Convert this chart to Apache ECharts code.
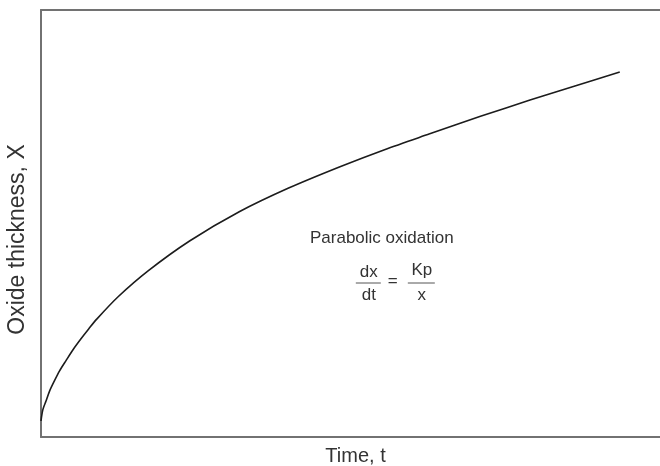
<!DOCTYPE html>
<html>
<head>
<meta charset="utf-8">
<script src="https://cdn.jsdelivr.net/npm/echarts@6/dist/echarts.min.js"></script>
<style>
  html, body { margin: 0; padding: 0; background: #ffffff; }
  #chart { width: 660px; height: 466px; }
</style>
</head>
<body>
<div id="chart"></div>
<script>
// Parabolic oxide growth: thickness against time (arbitrary units)
const timeValues = [0, 0.3, 0.81, 1.4, 2.15, 3.0, 4.04, 5.2, 6.46, 7.7, 9.0, 12.5,
  17.3, 24.0, 32.1, 40.0, 48.3, 55.5, 62.8, 71.0, 79.0, 86.0, 93.5];
const thicknessValues = [3.75, 6.4, 8.43, 10.8, 13.1, 15.5, 17.9, 20.5, 23.0, 25.3, 27.6, 32.9,
  38.9, 45.9, 52.8, 58.3, 63.3, 67.3, 71.0, 75.1, 78.9, 82.1, 85.5];

const xAxisName = 'Time, t';
const yAxisName = 'Oxide thickness, X';
const curveTitle = 'Parabolic oxidation';

const curve = timeValues.map((t, i) => [t, thicknessValues[i]]);

const FONT = '"Liberation Sans", Arial, Helvetica, sans-serif';
const AXIS_COLOR = '#727272';
const TEXT_COLOR = '#333333';

const chart = echarts.init(document.getElementById('chart'), null, { renderer: 'canvas' });

const plainAxis = {
  axisTick: { show: false },
  axisLabel: { show: false },
  splitLine: { show: false },
  axisLine: { show: true, lineStyle: { color: AXIS_COLOR, width: 2 } }
};

chart.setOption({
  animation: false,
  backgroundColor: '#ffffff',
  grid: { left: 41, right: 0, top: 10, bottom: 29, containLabel: false, outerBoundsMode: 'none' },
  xAxis: [
    Object.assign({
      type: 'value', min: 0, max: 100, position: 'bottom',
      name: xAxisName, nameLocation: 'middle', nameGap: 9,
      nameTextStyle: { fontFamily: FONT, fontSize: 20, color: TEXT_COLOR, padding: [0, 0, 0, 10] }
    }, plainAxis),
    Object.assign({
      type: 'value', min: 0, max: 100, position: 'top'
    }, plainAxis)
  ],
  yAxis: Object.assign({
    type: 'value', min: 0, max: 100,
    name: yAxisName, nameLocation: 'middle', nameGap: 12, nameRotate: 90,
    nameTextStyle: { fontFamily: FONT, fontSize: 23, color: TEXT_COLOR, padding: [0, 32, 0, 0] }
  }, plainAxis),
  series: [{
    type: 'line',
    xAxisIndex: 0,
    data: curve,
    smooth: 0.3,
    showSymbol: false,
    lineStyle: { color: '#1c1c1c', width: 1.6 }
  }],
  graphic: [{
    type: 'group',
    left: 310,
    top: 230,
    children: [
      { type: 'text', x: 73, y: 1,
        style: { text: curveTitle, font: '17px ' + FONT, fill: TEXT_COLOR, textAlign: 'center' } },
      // dx / dt
      { type: 'text', x: 60, y: 35,
        style: { text: 'dx', font: '17px ' + FONT, fill: TEXT_COLOR, textAlign: 'center' } },
      { type: 'line', shape: { x1: 47, y1: 54, x2: 72, y2: 54 },
        style: { stroke: '#555555', lineWidth: 1 } },
      { type: 'text', x: 60, y: 58,
        style: { text: 'dt', font: '17px ' + FONT, fill: TEXT_COLOR, textAlign: 'center' } },
      { type: 'text', x: 84, y: 44,
        style: { text: '=', font: '17px ' + FONT, fill: TEXT_COLOR, textAlign: 'center' } },
      // Kp / x
      { type: 'text', x: 113, y: 33,
        style: { text: 'Kp', font: '17px ' + FONT, fill: TEXT_COLOR, textAlign: 'center' } },
      { type: 'line', shape: { x1: 99, y1: 54, x2: 126, y2: 54 },
        style: { stroke: '#555555', lineWidth: 1 } },
      { type: 'text', x: 113, y: 58,
        style: { text: 'x', font: '17px ' + FONT, fill: TEXT_COLOR, textAlign: 'center' } }
    ]
  }]
});
</script>
</body>
</html>
